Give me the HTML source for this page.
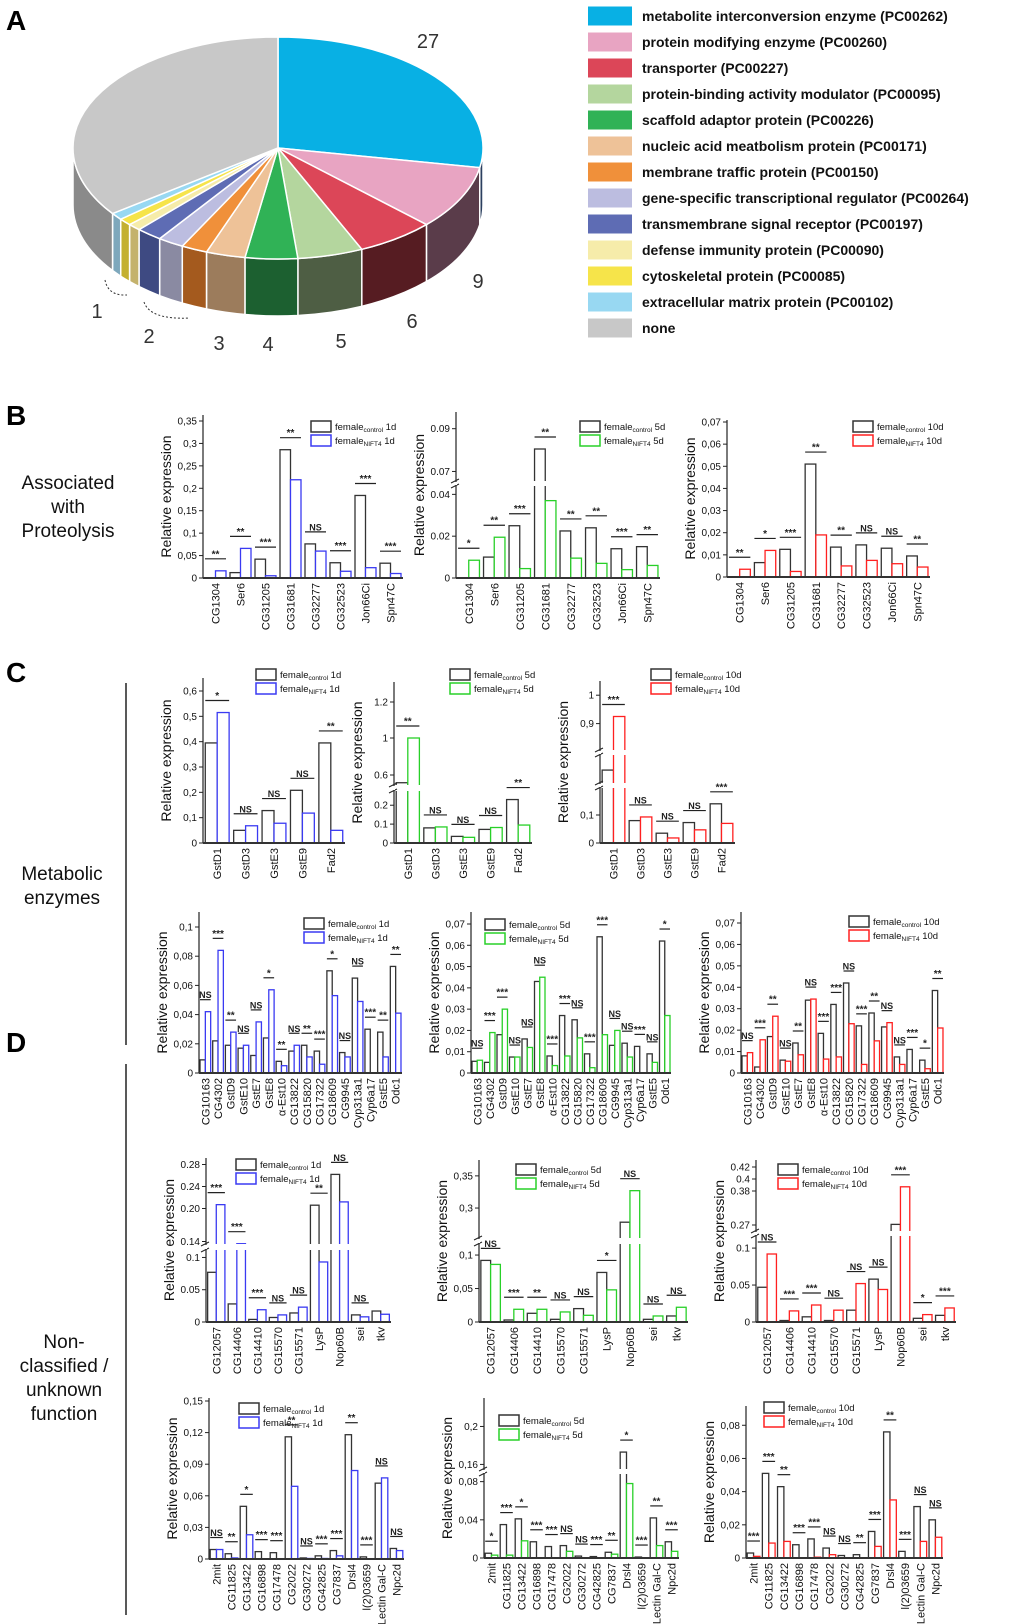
<!DOCTYPE html>
<html><head><meta charset="utf-8"><style>
html,body{margin:0;padding:0;background:#fff;}
svg{display:block;font-family:"Liberation Sans",sans-serif;}
</style></head><body>
<svg id="fig" width="1020" height="1624" viewBox="0 0 1020 1624" xmlns="http://www.w3.org/2000/svg">
<text x="6" y="30" font-size="28" font-weight="bold">A</text>
<text x="6" y="425" font-size="28" font-weight="bold">B</text>
<text x="6" y="682" font-size="28" font-weight="bold">C</text>
<text x="6" y="1052" font-size="28" font-weight="bold">D</text>
<g font-size="19" text-anchor="middle" fill="#111">
<text x="68" y="489"><tspan x="68">Associated</tspan><tspan x="68" dy="24">with</tspan><tspan x="68" dy="24">Proteolysis</tspan></text>
<text x="62" y="880"><tspan x="62">Metabolic</tspan><tspan x="62" dy="24">enzymes</tspan></text>
<text x="64" y="1348"><tspan x="64">Non-</tspan><tspan x="64" dy="24">classified /</tspan><tspan x="64" dy="24">unknown</tspan><tspan x="64" dy="24">function</tspan></text>
</g>
<line x1="126" y1="683" x2="126" y2="1045" stroke="#222" stroke-width="1.5"/>
<line x1="126" y1="1064" x2="126" y2="1615" stroke="#222" stroke-width="1.5"/>
<g id="pie"></g>
<g id="legendA"></g>
<g id="charts"></g>
</svg>
<script>
// ---------- Pie data ----------
const pieLabels = ["metabolite interconversion enzyme (PC00262)","protein modifying enzyme (PC00260)","transporter (PC00227)","protein-binding activity modulator (PC00095)","scaffold adaptor protein (PC00226)","nucleic acid meatbolism protein (PC00171)","membrane traffic protein (PC00150)","gene-specific transcriptional regulator (PC00264)","transmembrane signal receptor (PC00197)","defense immunity protein (PC00090)","cytoskeletal protein (PC00085)","extracellular matrix protein (PC00102)","none"];
const pieValues = [27,9,6,5,4,3,2,2,2,1,1,1,34];
const pieColors = ["#08b0e4","#e8a4c2","#dc4658","#b4d69e","#30b256","#eec298","#f0903a","#bcbde0","#5e6cb4","#f6ecaa","#f6e44a","#98d8f2","#c8c8c8"];
const pieSide = ["#2c4060","#5a3c4a","#561c22","#4e5e44","#1c6030","#9c7c5c","#a45a1e","#8a8aa2","#3e4a82","#c4b26c","#c4b030","#7ea8bc","#8a8a8a"];
const pieNums = [["27",428,48],["9",478,288],["6",412,328],["5",341,348],["4",268,351],["3",219,350],["2",149,343],["1",97,318]];

const NS="http://www.w3.org/2000/svg";
function mk(tag,parent,attrs){const e=document.createElementNS(NS,tag);for(const k in attrs)e.setAttribute(k,attrs[k]);parent.appendChild(e);return e;}

(function(){
const g=document.getElementById('pie');
const cx=278,cy=148,rx=205,ry=111,dep=57;
const P=(t,d)=>[cx+rx*Math.cos(t*Math.PI/180),cy+ry*Math.sin(t*Math.PI/180)+(d||0)];
const total=pieValues.reduce((a,b)=>a+b,0);
let a=-90;const spans=[];
pieValues.forEach(v=>{const b=a+v*360/total;spans.push([a,b]);a=b;});
spans.forEach((s,i)=>{
  let lo=s[0],hi=s[1];
  [[lo,hi],[lo-360,hi-360]].forEach(([l,h])=>{
    const u=Math.max(l,0),w=Math.min(h,180);
    if(u<w){const p1=P(u),p2=P(w),q2=P(w,dep),q1=P(u,dep);
      const e=mk('path',g,{d:`M${p1} A${rx} ${ry} 0 0 1 ${p2} L${q2} A${rx} ${ry} 0 0 0 ${q1} Z`,fill:pieSide[i],stroke:'#fff','stroke-width':1.5});
      
      }
  });
});
spans.forEach((s,i)=>{
  const p1=P(s[0]),p2=P(s[1]);const large=(s[1]-s[0])>180?1:0;
  const e=mk('path',g,{d:`M${cx},${cy} L${p1} A${rx} ${ry} 0 ${large} 1 ${p2} Z`,fill:pieColors[i],stroke:'#fff','stroke-width':1.5});
  
  
});
mk('path',g,{d:'M105,280 Q108,296 127,295',fill:'none',stroke:'#333','stroke-dasharray':'2,2','stroke-width':1});
mk('path',g,{d:'M144,302 Q150,320 190,318',fill:'none',stroke:'#333','stroke-dasharray':'2,2','stroke-width':1});
pieNums.forEach(n=>{const t=mk('text',g,{x:n[1],y:n[2],'font-size':20,'text-anchor':'middle',fill:'#333'});t.textContent=n[0];
  
  });
const L=document.getElementById('legendA');
pieLabels.forEach((lab,i)=>{
  const y=16+i*26;
  const r=mk('rect',L,{x:588,y:y-9.5,width:44,height:19,fill:pieColors[i]});
  
  
  const t=mk('text',L,{x:642,y:y+5,'font-size':14,'font-weight':'bold',fill:'#111'});t.textContent=lab;
  
  
});
})();

// ---------- Bar chart data ----------
const catsB=["CG1304","Ser6","CG31205","CG31681","CG32277","CG32523","Jon66Ci","Spn47C"];
const catsC1=["GstD1","GstD3","GstE3","GstE9","Fad2"];
const catsC2=["CG10163","CG4302","GstD9","GstE10","GstE7","GstE8","α-Est10","CG13822","CG15820","CG17322","CG18609","CG9945","Cyp313a1","Cyp6a17","GstE5","Odc1"];
const catsD1=["CG12057","CG14406","CG14410","CG15570","CG15571","LysP","Nop60B","sei","tkv"];
const catsD2=["2mit","CG11825","CG13422","CG16898","CG17478","CG2022","CG30272","CG42825","CG7837","Drsl4","l(2)03659","Lectin Gal-C","Npc2d"];

const b1Ctrl=[0,0.012,0.042,0.286,0.076,0.034,0.184,0.033];
const b1Nift=[0.016,0.066,0.005,0.219,0.06,0.015,0.023,0.01];
const b1Sig=["**","**","***","**","NS","***","***","***"];
const b1Ticks=[0,0.05,0.1,0.15,0.2,0.25,0.3,0.35];
const b1TickLabels=["0","0,05","0,1","0,15","0,2","0,25","0,3","0,35"];

const b2Ctrl=[0,0.010,0.025,0.0805,0.0225,0.024,0.014,0.015];
const b2Nift=[0.0085,0.0195,0.0045,0.037,0.0095,0.007,0.004,0.006];
const b2Sig=["*","**","***","**","**","**","***","**"];
const b2Ticks=[0,0.02,0.04,0.07,0.09];
const b2TickLabels=["0","0.02","0.04","0.07","0.09"];

const b3Ctrl=[0,0.0065,0.0125,0.051,0.0135,0.0145,0.013,0.0095];
const b3Nift=[0.0035,0.012,0.0025,0.019,0.005,0.0075,0.006,0.0045];
const b3Sig=["**","*","***","**","**","NS","NS","**"];
const b3Ticks=[0,0.01,0.02,0.03,0.04,0.05,0.06,0.07];
const b3TickLabels=["0","0,01","0,02","0,03","0,04","0,05","0,06","0,07"];

const c1aCtrl=[0.395,0.05,0.128,0.208,0.395];
const c1aNift=[0.515,0.068,0.078,0.118,0.05];
const c1aSig=["*","NS","NS","NS","**"];
const c1aTicks=[0,0.1,0.2,0.3,0.4,0.5,0.6];
const c1aTickLabels=["0","0,1","0,2","0,3","0,4","0,5","0,6"];

const c1bCtrl=[0.45,0.08,0.035,0.072,0.23];
const c1bNift=[1.0,0.085,0.03,0.082,0.095];
const c1bSig=["**","NS","NS","NS","**"];
const c1bTicks=[0,0.1,0.2,0.6,1,1.2];
const c1bTickLabels=["0","0.1","0.2","0.6","1","1.2"];

const c1cCtrl=[0.49,0.08,0.035,0.073,0.14];
const c1cNift=[0.925,0.093,0.018,0.047,0.07];
const c1cSig=["***","NS","NS","NS","***"];
const c1cTicks=[0,0.1,0.9,1];
const c1cTickLabels=["0","0,1","0,9","1"];

const c2aCtrl=[0.009,0.022,0.019,0.017,0.012,0.024,0.008,0.015,0.019,0.015,0.070,0.014,0.065,0.030,0.028,0.073];
const c2aNift=[0.042,0.084,0.028,0.019,0.035,0.057,0.005,0.019,0.011,0.006,0.053,0.011,0.049,0,0.011,0.041];
const c2aSig=["NS","***","**","NS","NS","*","**","NS","**","***","*","NS","NS","***","**","**"];
const c2aTicks=[0,0.02,0.04,0.06,0.08,0.1];
const c2aTickLabels=["0","0,02","0,04","0,06","0,08","0,1"];

const c2bCtrl=[0.0055,0.005,0.018,0.0075,0.016,0.043,0.008,0.027,0.025,0.009,0.064,0.013,0.014,0.0125,0.009,0.062];
const c2bNift=[0.006,0.019,0.030,0.0075,0.012,0.045,0.0035,0.008,0.0165,0.0025,0.018,0.020,0.0075,0,0.005,0.027];
const c2bSig=["NS","***","***","NS","NS","NS","***","***","NS","***","***","NS","NS","***","NS","*"];
const c2Ticks=[0,0.01,0.02,0.03,0.04,0.05,0.06,0.07];
const c2TickLabels=["0","0,01","0,02","0,03","0,04","0,05","0,06","0,07"];

const c2cCtrl=[0.008,0.0028,0.017,0.006,0.014,0.034,0.0185,0.032,0.042,0.022,0.028,0.0215,0.0075,0.011,0.006,0.0385];
const c2cNift=[0.0095,0.0155,0.0265,0.0055,0.0085,0.0345,0.0065,0.0075,0.023,0.004,0.015,0.0235,0.004,0,0.002,0.021];
const c2cSig=["NS","***","**","NS","**","NS","***","***","NS","***","**","NS","NS","***","*","**"];

const d1aCtrl=[0.077,0.028,0.004,0.007,0.014,0.206,0.262,0.011,0.017];
const d1aNift=[0.207,0.136,0.019,0.011,0.023,0.093,0.212,0.008,0.012];
const d1aSig=["***","***","***","NS","NS","**","NS","NS",""];
const d1aTicks=[0,0.05,0.1,0.14,0.20,0.24,0.28];
const d1aTickLabels=["0","0.05","0.1","0.14","0.20","0.24","0.28"];

const d1bCtrl=[0.092,0.003,0.013,0.004,0.020,0.074,0.278,0.004,0.009];
const d1bNift=[0.086,0.019,0.019,0.015,0.010,0.048,0.327,0.009,0.022];
const d1bSig=["NS","***","**","NS","NS","*","NS","NS","NS"];
const d1bTicks=[0,0.05,0.1,0.3,0.35];
const d1bTickLabels=["0","0,05","0,1","0,3","0,35"];

const d1cCtrl=[0.047,0.002,0.007,0.002,0.016,0.058,0.272,0.005,0.009];
const d1cNift=[0.092,0.015,0.023,0.016,0.052,0.044,0.387,0.010,0.019];
const d1cSig=["NS","***","***","NS","NS","NS","***","*","***"];
const d1cTicks=[0,0.05,0.1,0.27,0.38,0.4,0.42];
const d1cTickLabels=["0","0.05","0.1","0.27","0.38","0.4","0.42"];

const d2aCtrl=[0.009,0.005,0.05,0.007,0.006,0.116,0.001,0.003,0.008,0.118,0.002,0.072,0.01];
const d2aNift=[0.009,0.001,0.023,0,0,0.069,0.0005,0.0005,0.003,0.084,0,0.077,0.008];
const d2aSig=["NS","**","*","***","***","**","NS","***","***","**","***","NS","NS"];
const d2aTicks=[0,0.03,0.06,0.09,0.12,0.15];
const d2aTickLabels=["0","0,03","0,06","0,09","0,12","0,15"];

const d2bCtrl=[0.005,0.035,0.041,0.017,0.012,0.013,0.002,0.0015,0.006,0.173,0.001,0.042,0.017];
const d2bNift=[0.003,0.003,0.018,0,0,0.007,0,0,0.004,0.078,0,0.013,0.007];
const d2bSig=["*","***","*","***","***","NS","NS","***","**","*","***","**","***"];
const d2bTicks=[0,0.04,0.08,0.16,0.2];
const d2bTickLabels=["0","0,04","0,08","0,16","0,2"];

const d2cCtrl=[0.003,0.051,0.043,0.008,0.0115,0.006,0.0015,0.002,0.016,0.076,0.004,0.031,0.023];
const d2cNift=[0.001,0.009,0.010,0,0.0005,0.002,0,0,0.007,0.035,0,0.010,0.0125];
const d2cSig=["***","***","**","***","***","NS","NS","**","***","**","***","NS","NS"];
const d2cTicks=[0,0.02,0.04,0.06,0.08];
const d2cTickLabels=["0","0,02","0,04","0,06","0,08"];

const BLUE="#3a3af2",GREEN="#28d028",RED="#ff2020";
const charts=[
 {id:'b1',cats:catsB,ctrl:b1Ctrl,nift:b1Nift,sig:b1Sig,ticks:b1Ticks,tl:b1TickLabels,x0:203,x1:403,d:[0,0.35],r:[578,421],top:415,col:BLUE,day:'1d',lx:311,ly:427,gaps:[]},
 {id:'b2',cats:catsB,ctrl:b2Ctrl,nift:b2Nift,sig:b2Sig,ticks:b2Ticks,tl:b2TickLabels,x0:456,x1:660,d:[0,0.044,0.066,0.095],r:[578,486,480,418],top:412,col:GREEN,day:'5d',lx:580,ly:427,gaps:[[481,486]]},
 {id:'b3',cats:catsB,ctrl:b3Ctrl,nift:b3Nift,sig:b3Sig,ticks:b3Ticks,tl:b3TickLabels,x0:727,x1:930,d:[0,0.07],r:[577,422],top:420,col:RED,day:'10d',lx:853,ly:427,gaps:[]},
 {id:'c1a',cats:catsC1,ctrl:c1aCtrl,nift:c1aNift,sig:c1aSig,ticks:c1aTicks,tl:c1aTickLabels,x0:203,x1:345,d:[0,0.6],r:[843,691],top:678,col:BLUE,day:'1d',lx:256,ly:675,gaps:[]},
 {id:'c1b',cats:catsC1,ctrl:c1bCtrl,nift:c1bNift,sig:c1bSig,ticks:c1bTicks,tl:c1bTickLabels,x0:394,x1:532,d:[0,0.27,0.6,1.0,1.3],r:[843,792,775,738,684],top:682,col:GREEN,day:'5d',lx:450,ly:675,gaps:[[785,791]]},
 {id:'c1c',cats:catsC1,ctrl:c1cCtrl,nift:c1cNift,sig:c1cSig,ticks:c1cTicks,tl:c1cTickLabels,x0:600,x1:735,d:[0,0.2,0.8,1.05],r:[843,787,752,681],top:681,col:RED,day:'10d',lx:651,ly:675,gaps:[[783,788],[750,755]]},
 {id:'c2a',cats:catsC2,ctrl:c2aCtrl,nift:c2aNift,sig:c2aSig,ticks:c2aTicks,tl:c2aTickLabels,x0:199,x1:402,d:[0,0.1],r:[1073,927],top:912,col:BLUE,day:'1d',lx:304,ly:924,gaps:[]},
 {id:'c2b',cats:catsC2,ctrl:c2bCtrl,nift:c2bNift,sig:c2bSig,ticks:c2Ticks,tl:c2TickLabels,x0:471,x1:671,d:[0,0.07],r:[1073,924],top:912,col:GREEN,day:'5d',lx:485,ly:925,gaps:[]},
 {id:'c2c',cats:catsC2,ctrl:c2cCtrl,nift:c2cNift,sig:c2cSig,ticks:c2Ticks,tl:c2TickLabels,x0:741,x1:944,d:[0,0.07],r:[1073,923],top:912,col:RED,day:'10d',lx:849,ly:922,gaps:[]},
 {id:'d1a',cats:catsD1,ctrl:d1aCtrl,nift:d1aNift,sig:d1aSig,ticks:d1aTicks,tl:d1aTickLabels,x0:206,x1:391,d:[0,0.11,0.13,0.29],r:[1322,1251,1247,1159],top:1158,col:BLUE,day:'1d',lx:236,ly:1165,gaps:[[1244,1250]]},
 {id:'d1b',cats:catsD1,ctrl:d1bCtrl,nift:d1bNift,sig:d1bSig,ticks:d1bTicks,tl:d1bTickLabels,x0:479,x1:688,d:[0,0.115,0.255,0.37],r:[1322,1245,1237,1163],top:1160,col:GREEN,day:'5d',lx:516,ly:1170,gaps:[[1238,1244]]},
 {id:'d1c',cats:catsD1,ctrl:d1cCtrl,nift:d1cNift,sig:d1cSig,ticks:d1cTicks,tl:d1cTickLabels,x0:756,x1:956,d:[0,0.115,0.26,0.27,0.38,0.43],r:[1322,1237,1231,1225,1191,1161],top:1160,col:RED,day:'10d',lx:778,ly:1170,gaps:[[1231,1236]]},
 {id:'d2a',cats:catsD2,ctrl:d2aCtrl,nift:d2aNift,sig:d2aSig,ticks:d2aTicks,tl:d2aTickLabels,x0:209,x1:404,d:[0,0.15],r:[1559,1401],top:1398,col:BLUE,day:'1d',lx:239,ly:1409,gaps:[]},
 {id:'d2b',cats:catsD2,ctrl:d2bCtrl,nift:d2bNift,sig:d2bSig,ticks:d2bTicks,tl:d2bTickLabels,x0:484,x1:679,d:[0,0.088,0.152,0.23],r:[1558,1474,1472,1398],top:1398,col:GREEN,day:'5d',lx:499,ly:1421,gaps:[[1469,1474]]},
 {id:'d2c',cats:catsD2,ctrl:d2cCtrl,nift:d2cNift,sig:d2cSig,ticks:d2cTicks,tl:d2cTickLabels,x0:746,x1:943,d:[0,0.088],r:[1558,1412],top:1406,col:RED,day:'10d',lx:764,ly:1408,gaps:[]}
];

function yScale(c,v){
  const d=c.d,r=c.r;let i=0;
  while(i<d.length-2&&v>d[i+1])i++;
  return r[i]+(v-d[i])*(r[i+1]-r[i])/(d[i+1]-d[i]);
}

const root=document.getElementById('charts');
charts.forEach(c=>{
  const g=mk('g',root,{});
  
  
  const y0=yScale(c,0);const n=c.cats.length;const band=(c.x1-c.x0)/n;const bw=band*0.42;
  c.cats.forEach((cat,i)=>{
    const gx=c.x0+band*(i+0.5);
    const yc=yScale(c,c.ctrl[i]),yn=yScale(c,c.nift[i]);
    const rc=mk('rect',g,{x:gx-bw,y:Math.min(yc,y0),width:bw,height:Math.abs(y0-yc),fill:'#fff',stroke:'#333','stroke-width':1.3});
    
    
    const rn=mk('rect',g,{x:gx,y:Math.min(yn,y0),width:bw,height:Math.abs(y0-yn),fill:'#fff',stroke:c.col,'stroke-width':1.3});
    
    
    const lt=mk('text',g,{x:0,y:0,'font-size':11,'text-anchor':'end',transform:`translate(${gx+4},${y0+5}) rotate(-90)`,fill:'#111'});
    lt.textContent=cat;
    
    
  });
  c.gaps.forEach(gp=>{
    mk('rect',g,{x:c.x0-3,y:gp[0],width:c.x1-c.x0+3,height:gp[1]-gp[0],fill:'#fff'});
    mk('line',g,{x1:c.x0-5,y1:gp[0]+2,x2:c.x0+3,y2:gp[0]-2,stroke:'#222','stroke-width':1});
    mk('line',g,{x1:c.x0-5,y1:gp[1]+2,x2:c.x0+3,y2:gp[1]-2,stroke:'#222','stroke-width':1});
  });
  // significance marks (after gaps so they are not hidden)
  c.cats.forEach((cat,i)=>{
    if(!c.sig[i])return;
    const gx=c.x0+band*(i+0.5);
    const yc=yScale(c,c.ctrl[i]),yn=yScale(c,c.nift[i]);
    const top=Math.min(yc,yn)-12;
    mk('line',g,{x1:gx-bw,x2:gx+bw,y1:top,y2:top,stroke:'#222','stroke-width':1.2});
    const t=mk('text',g,{x:gx,y:top-1.5,'font-size':c.sig[i]==='NS'?9:10,'font-weight':'bold','text-anchor':'middle',fill:'#222'});
    t.textContent=c.sig[i];
    
    
  });
  // axes
  const ax=mk('line',g,{x1:c.x0,y1:c.top,x2:c.x0,y2:y0,stroke:'#222','stroke-width':1.2});
  
  
  c.gaps.forEach(gp=>mk('rect',g,{x:c.x0-1,y:gp[0]+1,width:2,height:gp[1]-gp[0]-2,fill:'#fff'}));
  const bx=mk('line',g,{x1:c.x0,y1:y0,x2:c.x1,y2:y0,stroke:'#333','stroke-width':2});
  
  
  c.ticks.forEach((tv,k)=>{
    const ty=yScale(c,tv);
    mk('line',g,{x1:c.x0-4,x2:c.x0,y1:ty,y2:ty,stroke:'#222','stroke-width':1});
    const t=mk('text',g,{x:c.x0-6,y:ty+3.5,'font-size':10,'text-anchor':'end',fill:'#111'});
    t.textContent=c.tl[k];
    
    
  });
  const ym=(c.top+y0)/2;
  const yt=mk('text',g,{x:0,y:0,'font-size':14,'text-anchor':'middle',transform:`translate(${c.x0-32},${ym}) rotate(-90)`,fill:'#111'});
  yt.textContent='Relative expression';
  
  
  // legend
  [['control','#333'],['NIFT4',c.col]].forEach((L,k)=>{
    const ly=c.ly+k*14;
    const r=mk('rect',g,{x:c.lx,y:ly-6,width:20,height:11,fill:'#fff',stroke:L[1],'stroke-width':1.5});
    
    
    const t=mk('text',g,{x:c.lx+24,y:ly+3,'font-size':9.5,fill:'#111'});
    t.innerHTML='female<tspan font-size="6.5" dy="2">'+L[0]+'</tspan><tspan dy="-2"> '+c.day+'</tspan>';
    
    
  });
});
</script>
</body></html>
